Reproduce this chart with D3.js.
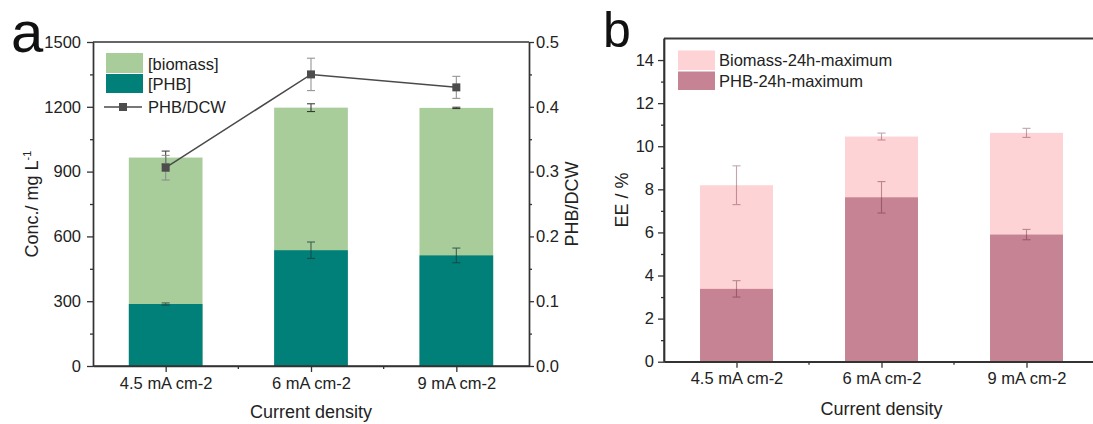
<!DOCTYPE html>
<html>
<head>
<meta charset="utf-8">
<script src="https://cdn.jsdelivr.net/npm/d3@7"></script>
<style>
  html, body { margin: 0; padding: 0; background: #fff; }
  svg { display: block; font-family: "Liberation Sans", Arial, sans-serif; }
  .tick text { fill: #222; }
</style>
</head>
<body>
<svg id="fig" width="1093" height="424"></svg>
<script>
// ---- data ----
const categories = ["4.5 mA cm-2", "6 mA cm-2", "9 mA cm-2"];

// panel a: concentrations (mg/L) and PHB fraction of dry cell weight
const biomassConc = [965, 1196, 1195];
const biomassConcErr = [30, 18, 3];
const phbConc = [287, 536, 512];
const phbConcErr = [5, 38, 34];
const phbDcw = [0.306, 0.450, 0.430];
const phbDcwErr = [0.019, 0.025, 0.017];
const concTicks = [0, 300, 600, 900, 1200, 1500];
const ratioTicks = [0.0, 0.1, 0.2, 0.3, 0.4, 0.5];

// panel b: energy efficiency (%)
const biomassEE = [8.19, 10.45, 10.62];
const biomassEEErr = [0.90, 0.16, 0.21];
const phbEE = [3.38, 7.63, 5.90];
const phbEEErr = [0.38, 0.73, 0.24];
const eeTicks = [0, 2, 4, 6, 8, 10, 12, 14];

const svg = d3.select("#fig");
const FS = 16.5;
const axisColor = "#333";

function styleAxis(g) {
  g.selectAll(".domain").attr("stroke", axisColor).attr("stroke-width", 1.4);
  g.selectAll(".tick line").attr("stroke", axisColor).attr("stroke-width", 1.3);
  g.selectAll(".tick text").attr("font-size", FS).attr("font-family", "Liberation Sans, Arial, sans-serif");
}

function errorBar(g, x, yTop, yBot, cap, color, width, opacity) {
  const e = g.append("g").attr("stroke", color).attr("stroke-width", width).attr("opacity", opacity);
  e.append("line").attr("x1", x).attr("x2", x).attr("y1", yTop).attr("y2", yBot);
  e.append("line").attr("x1", x - cap / 2).attr("x2", x + cap / 2).attr("y1", yTop).attr("y2", yTop);
  e.append("line").attr("x1", x - cap / 2).attr("x2", x + cap / 2).attr("y1", yBot).attr("y2", yBot);
}

// ================= panel a =================
(function () {
  const L = 93, R = 529, T = 42, B = 366;
  const x = d3.scalePoint().domain(categories).range([L, R]).padding(0.5);
  const step = x.step();
  const bw = step * 0.507;
  const y = d3.scaleLinear().domain([0, 1500]).range([B, T]);
  const y2 = d3.scaleLinear().domain([0, 0.5]).range([B, T]);
  const g = svg.append("g");

  // stacked bars: biomass total behind, PHB portion in front
  g.selectAll("rect.bio").data(categories).join("rect")
    .attr("x", d => x(d) - bw / 2).attr("width", bw)
    .attr("y", (d, i) => y(biomassConc[i])).attr("height", (d, i) => B - y(biomassConc[i]))
    .attr("fill", "#a8cc9a");
  g.selectAll("rect.phb").data(categories).join("rect")
    .attr("x", d => x(d) - bw / 2).attr("width", bw)
    .attr("y", (d, i) => y(phbConc[i])).attr("height", (d, i) => B - y(phbConc[i]))
    .attr("fill", "#008079");

  categories.forEach((c, i) => {
    errorBar(g, x(c), y(biomassConc[i] + biomassConcErr[i]), y(biomassConc[i] - biomassConcErr[i]), 8, "#222", 1.1, 0.85);
    errorBar(g, x(c), y(phbConc[i] + phbConcErr[i]), y(phbConc[i] - phbConcErr[i]), 8, "#1d3d3a", 1.1, 0.75);
  });

  // PHB/DCW line on the right axis
  const pts = categories.map((c, i) => [x(c), y2(phbDcw[i])]);
  g.append("path").attr("d", d3.line()(pts)).attr("fill", "none").attr("stroke", "#4a4a4a").attr("stroke-width", 1.5);
  categories.forEach((c, i) => {
    errorBar(g, x(c), y2(phbDcw[i] + phbDcwErr[i]), y2(phbDcw[i] - phbDcwErr[i]), 8, "#8a8a8a", 1.1, 0.9);
  });
  g.selectAll("rect.mk").data(pts).join("rect")
    .attr("x", d => d[0] - 4).attr("y", d => d[1] - 4).attr("width", 8).attr("height", 8)
    .attr("fill", "#4d4d4d");

  // axes
  const minorConc = d3.range(150, 1500, 300);
  const minorRatio = d3.range(0.05, 0.5, 0.1);
  g.append("g").attr("transform", `translate(${L},0)`)
    .call(d3.axisLeft(y).tickValues(concTicks).tickFormat(d3.format("d")).tickSize(6).tickPadding(6).tickSizeOuter(0))
    .call(styleAxis);
  g.append("g").attr("transform", `translate(${L},0)`)
    .call(d3.axisLeft(y).tickValues(minorConc).tickFormat("").tickSize(3).tickSizeOuter(0))
    .call(styleAxis);
  g.append("g").attr("transform", `translate(${R},0)`)
    .call(d3.axisRight(y2).tickValues(ratioTicks).tickFormat(d3.format(".1f")).tickSize(5).tickPadding(2).tickSizeOuter(0))
    .call(styleAxis);
  g.append("g").attr("transform", `translate(${R},0)`)
    .call(d3.axisRight(y2).tickValues(minorRatio).tickFormat("").tickSize(3).tickSizeOuter(0))
    .call(styleAxis);
  g.append("g").attr("transform", `translate(0,${B})`)
    .call(d3.axisBottom(x).tickSize(6).tickPadding(5).tickSizeOuter(0))
    .call(styleAxis);
  // minor ticks between categories
  g.selectAll("line.xminor").data(categories.slice(1)).join("line")
    .attr("x1", d => x(d) - step / 2).attr("x2", d => x(d) - step / 2)
    .attr("y1", B).attr("y2", B + 3).attr("stroke", axisColor).attr("stroke-width", 1.3);
  g.append("line").attr("x1", L).attr("x2", R).attr("y1", T).attr("y2", T)
    .attr("stroke", axisColor).attr("stroke-width", 1.4);
  g.append("line").attr("x1", L).attr("x2", R).attr("y1", B).attr("y2", B)
    .attr("stroke", axisColor).attr("stroke-width", 1.4);

  // titles
  g.append("text").attr("x", (L + R) / 2).attr("y", 418).attr("text-anchor", "middle")
    .attr("font-size", 18).attr("fill", "#222").text("Current density");
  const yt = g.append("text").attr("transform", `translate(38,${(T + B) / 2}) rotate(-90)`)
    .attr("text-anchor", "middle").attr("font-size", 18).attr("fill", "#222");
  yt.append("tspan").text("Conc./ mg L");
  yt.append("tspan").attr("font-size", 11).attr("dy", -7).text("-1");
  g.append("text").attr("transform", `translate(578,${(T + B) / 2}) rotate(-90)`)
    .attr("text-anchor", "middle").attr("font-size", 18).attr("fill", "#222").text("PHB/DCW");
  g.append("text").attr("x", 11).attr("y", 52).attr("font-size", 58).attr("fill", "#111").text("a");

  // legend
  const lg = g.append("g");
  lg.append("rect").attr("x", 106).attr("y", 53).attr("width", 37).attr("height", 20).attr("fill", "#a8cc9a");
  lg.append("rect").attr("x", 106).attr("y", 74).attr("width", 37).attr("height", 19).attr("fill", "#008079");
  lg.append("line").attr("x1", 104).attr("x2", 142).attr("y1", 107).attr("y2", 107)
    .attr("stroke", "#4a4a4a").attr("stroke-width", 1.5);
  lg.append("rect").attr("x", 119).attr("y", 103).attr("width", 8).attr("height", 8).attr("fill", "#4d4d4d");
  const lt = [["[biomass]", 69.5], ["[PHB]", 90], ["PHB/DCW", 113]];
  lt.forEach(([t, yy]) => lg.append("text").attr("x", 148).attr("y", yy).attr("font-size", FS).attr("fill", "#222").text(t));
})();

// ================= panel b =================
(function () {
  const L = 664, T = 38.5, B = 361.7;
  const step = 145;
  const R = L + step * 3;
  const x = d3.scalePoint().domain(categories).range([L, R]).padding(0.5);
  const bw = step * 0.503;
  const y = d3.scaleLinear().domain([0, 15]).range([B, T]);
  const g = svg.append("g");

  g.selectAll("rect.bio").data(categories).join("rect")
    .attr("x", d => x(d) - bw / 2).attr("width", bw)
    .attr("y", (d, i) => y(biomassEE[i])).attr("height", (d, i) => B - y(biomassEE[i]))
    .attr("fill", "#fdd3d5");
  g.selectAll("rect.phb").data(categories).join("rect")
    .attr("x", d => x(d) - bw / 2).attr("width", bw)
    .attr("y", (d, i) => y(phbEE[i])).attr("height", (d, i) => B - y(phbEE[i]))
    .attr("fill", "#c58393");

  categories.forEach((c, i) => {
    errorBar(g, x(c), y(biomassEE[i] + biomassEEErr[i]), y(biomassEE[i] - biomassEEErr[i]), 8, "#7a3a4a", 1.1, 0.45);
    errorBar(g, x(c), y(phbEE[i] + phbEEErr[i]), y(phbEE[i] - phbEEErr[i]), 8, "#6a2a3a", 1.1, 0.45);
  });

  const minorEE = d3.range(1, 15, 2);
  g.append("g").attr("transform", `translate(${L},0)`)
    .call(d3.axisLeft(y).tickValues(eeTicks).tickFormat(d3.format("d")).tickSize(6).tickPadding(4).tickSizeOuter(0))
    .call(styleAxis);
  g.append("g").attr("transform", `translate(${L},0)`)
    .call(d3.axisLeft(y).tickValues(minorEE).tickFormat("").tickSize(3).tickSizeOuter(0))
    .call(styleAxis);
  g.append("g").attr("transform", `translate(0,${B})`)
    .call(d3.axisBottom(x).tickSize(6).tickPadding(5).tickSizeOuter(0))
    .call(styleAxis);
  g.selectAll("line.xminor").data(categories.slice(1)).join("line")
    .attr("x1", d => x(d) - step / 2).attr("x2", d => x(d) - step / 2)
    .attr("y1", B).attr("y2", B + 3).attr("stroke", axisColor).attr("stroke-width", 1.3);
  g.append("line").attr("x1", L).attr("x2", R).attr("y1", T).attr("y2", T)
    .attr("stroke", "#3a3a3a").attr("stroke-width", 1.8);
  g.append("line").attr("x1", L).attr("x2", R).attr("y1", B).attr("y2", B)
    .attr("stroke", axisColor).attr("stroke-width", 1.4);
  g.append("line").attr("x1", L).attr("x2", L).attr("y1", T).attr("y2", B)
    .attr("stroke", axisColor).attr("stroke-width", 1.4);

  g.append("text").attr("x", x(categories[1])).attr("y", 415).attr("text-anchor", "middle")
    .attr("font-size", 18).attr("fill", "#222").text("Current density");
  g.append("text").attr("transform", `translate(628,${(T + B) / 2}) rotate(-90)`)
    .attr("text-anchor", "middle").attr("font-size", 18).attr("fill", "#222").text("EE / %");
  g.append("text").attr("x", 603).attr("y", 47).attr("font-size", 50).attr("fill", "#111").text("b");

  const lg = g.append("g");
  lg.append("rect").attr("x", 678).attr("y", 50.5).attr("width", 37).attr("height", 19.5).attr("fill", "#fdd3d5");
  lg.append("rect").attr("x", 678).attr("y", 71.5).attr("width", 37).attr("height", 18.5).attr("fill", "#c58393");
  lg.append("text").attr("x", 719).attr("y", 66).attr("font-size", FS).attr("fill", "#222").text("Biomass-24h-maximum");
  lg.append("text").attr("x", 719).attr("y", 86.5).attr("font-size", FS).attr("fill", "#222").text("PHB-24h-maximum");
})();
</script>
</body>
</html>
